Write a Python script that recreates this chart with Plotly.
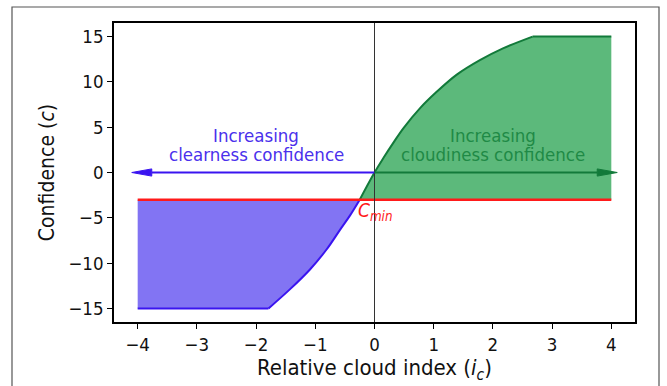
import plotly.graph_objects as go

# Confidence curve for increasing cloudiness (from the threshold crossing up to the cap)
ic_cloud = [-0.25, 0.0, 0.15, 0.32, 0.49, 0.77, 1.05, 1.39, 1.78, 2.17, 2.67]
c_cloud = [-3.0, 0.0, 1.6, 3.3, 4.9, 7.1, 8.9, 10.8, 12.4, 13.7, 15.0]

# Confidence curve for increasing clearness (from the floor up to the threshold crossing)
ic_clear = [-1.79, -1.43, -1.09, -0.81, -0.58, -0.41, -0.25]
c_clear = [-15.0, -12.9, -10.7, -8.5, -6.3, -4.7, -3.0]

# Saturation levels and extent of the index
c_max = 15.0
c_floor = -15.0
ic_limits = [-4.0, 4.0]

# Minimum confidence threshold
c_min = -3.0

# Direction arrows along c = 0
arrow_tip = 4.1

x_ticks = [-4, -3, -2, -1, 0, 1, 2, 3, 4]
y_ticks = [-15, -10, -5, 0, 5, 10, 15]

X_RANGE = [-4.4, 4.4]
Y_RANGE = [-16.5, 16.5]

FONT = "DejaVu Sans Condensed, DejaVu Sans, sans-serif"
BLUE = "#3a14f0"
BLUE_FILL = "#8274f3"
BLUE_TEXT = "#4a30ec"
GREEN = "#127a3a"
GREEN_FILL = "#5cb97b"
GREEN_TEXT = "#1f8a46"
RED = "#ff1a1a"

W, H = 667, 386
ML, MR, MT, MB = 114, 32, 23, 64
plot_w = W - ML - MR
plot_h = H - MT - MB
dx_per_px = (X_RANGE[1] - X_RANGE[0]) / plot_w
dy_per_px = (Y_RANGE[1] - Y_RANGE[0]) / plot_h

fig = go.Figure()

# Shaded regions bounded by the threshold line
fig.add_trace(go.Scatter(
    x=[ic_limits[0]] + ic_clear + [ic_limits[0]],
    y=[c_floor] + c_clear + [c_min],
    fill="toself", fillcolor=BLUE_FILL, mode="lines",
    line=dict(width=0), hoverinfo="skip", showlegend=False,
))
fig.add_trace(go.Scatter(
    x=ic_cloud + [ic_limits[1], ic_limits[1], ic_cloud[0]],
    y=c_cloud + [c_max, c_min, c_min],
    fill="toself", fillcolor=GREEN_FILL, mode="lines",
    line=dict(width=0), hoverinfo="skip", showlegend=False,
))

# Confidence curves (smooth part) and their saturated flat parts
fig.add_trace(go.Scatter(
    x=ic_clear, y=c_clear, mode="lines",
    line=dict(color=BLUE, width=2, shape="spline", smoothing=1.0), showlegend=False,
))
fig.add_trace(go.Scatter(
    x=[ic_limits[0], ic_clear[0]], y=[c_floor, c_clear[0]], mode="lines",
    line=dict(color=BLUE, width=2), showlegend=False,
))
fig.add_trace(go.Scatter(
    x=ic_cloud, y=c_cloud, mode="lines",
    line=dict(color=GREEN, width=2, shape="spline", smoothing=1.0), showlegend=False,
))
fig.add_trace(go.Scatter(
    x=[ic_cloud[-1], ic_limits[1]], y=[c_cloud[-1], c_max], mode="lines",
    line=dict(color=GREEN, width=2), showlegend=False,
))

# Threshold line
fig.add_trace(go.Scatter(
    x=ic_limits, y=[c_min, c_min], mode="lines",
    line=dict(color=RED, width=2.6), showlegend=False,
))

shapes = []
# Vertical reference at ic = 0
shapes.append(dict(type="line", xref="x", yref="paper", x0=0, x1=0, y0=0, y1=1,
                   line=dict(color="#333333", width=1), layer="above"))

# Arrows: shaft plus a long, narrow triangular head
head_len = 20 * dx_per_px
head_half = 3.6 * dy_per_px
for sign, col in ((-1, BLUE), (1, GREEN)):
    tip = sign * arrow_tip
    base = tip - sign * head_len
    shapes.append(dict(type="line", xref="x", yref="y", x0=0, x1=base, y0=0, y1=0,
                       line=dict(color=col, width=2), layer="above"))
    shapes.append(dict(
        type="path", xref="x", yref="y",
        path=f"M {tip},0 L {base},{head_half} L {base},{-head_half} Z",
        fillcolor=col, line=dict(color=col, width=1), layer="above",
    ))

# Outer figure frame
fx0 = (12 - ML) / plot_w
fx1 = (659 - ML) / plot_w
fy1 = (H - MB - 7) / plot_h
fy0 = (H - MB - 420) / plot_h
shapes.append(dict(type="rect", xref="paper", yref="paper", x0=fx0, x1=fx1, y0=fy0, y1=fy1,
                   line=dict(color="#555555", width=1.2), fillcolor="rgba(0,0,0,0)", layer="above"))

TXT = 18.5
annotations = [
    dict(x=-2.0, y=4.05, text="Increasing", showarrow=False,
         font=dict(family=FONT, size=TXT, color=BLUE_TEXT), xanchor="center", yanchor="middle"),
    dict(x=-2.0, y=1.95, text="clearness confidence", showarrow=False,
         font=dict(family=FONT, size=TXT, color=BLUE_TEXT), xanchor="center", yanchor="middle"),
    dict(x=2.0, y=4.05, text="Increasing", showarrow=False,
         font=dict(family=FONT, size=TXT, color=GREEN_TEXT), xanchor="center", yanchor="middle"),
    dict(x=2.0, y=1.95, text="cloudiness confidence", showarrow=False,
         font=dict(family=FONT, size=TXT, color=GREEN_TEXT), xanchor="center", yanchor="middle"),
    dict(x=-0.31, y=-4.3, text="<i>C</i><sub><i>min</i></sub>", showarrow=False,
         font=dict(family=FONT, size=19, color=RED), xanchor="left", yanchor="middle"),
]

axis_common = dict(
    showgrid=False, zeroline=False, showline=True, mirror=True,
    linecolor="black", linewidth=1.5, ticks="outside", ticklen=5, tickwidth=1.2,
    tickcolor="black", tickfont=dict(family=FONT, size=18.5, color="#111111"),
)

fig.update_layout(
    width=W, height=H,
    margin=dict(l=ML, r=MR, t=MT, b=MB),
    paper_bgcolor="white", plot_bgcolor="white",
    shapes=shapes, annotations=annotations,
    xaxis=dict(range=X_RANGE, tickvals=x_ticks,
               title=dict(text="Relative cloud index (<i>i</i><sub><i>c</i></sub>)",
                          font=dict(family=FONT, size=22, color="#111111"), standoff=4),
               **axis_common),
    yaxis=dict(range=Y_RANGE, tickvals=y_ticks,
               title=dict(text="Confidence (<i>c</i>)",
                          font=dict(family=FONT, size=21, color="#111111"), standoff=8),
               **axis_common),
)

fig.write_html("out.html")
